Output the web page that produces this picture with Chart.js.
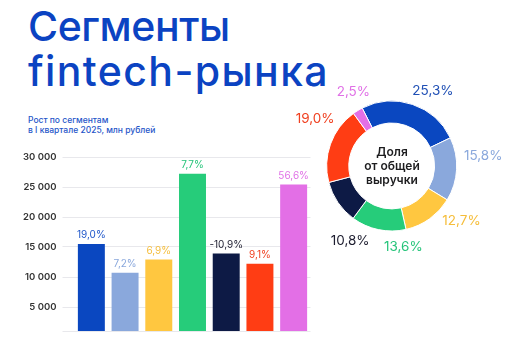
<!DOCTYPE html>
<html>
<head>
<meta charset="utf-8">
<script src="https://cdn.jsdelivr.net/npm/chart.js@4"></script>
<style>
  html, body { margin: 0; padding: 0; background: #fff; width: 525px; height: 350px; overflow: hidden; }
  body { position: relative; font-family: Inter, "Noto Sans", sans-serif; }
  #title { position: absolute; left: 28px; top: 4px; color: #0b43c2; font-family: Inter, sans-serif; font-weight: 500; font-size: 41px; line-height: 45px; }
  #title .l1 { letter-spacing: -0.4px; display: block; }
  #title .l2 { letter-spacing: 1.4px; display: block; }
  #sub { position: absolute; left: 28px; top: 115px; color: #1f56c9; font-family: Inter, sans-serif; font-weight: 500; font-size: 8.5px; line-height: 10px; }
  #barWrap { position: absolute; left: 0; top: 140px; width: 320px; height: 210px; }
  #pieWrap { position: absolute; left: 290px; top: 70px; width: 235px; height: 192px; }
  #center { position: absolute; left: 342px; top: 145px; width: 100px; text-align: center; font-family: Inter, sans-serif; font-weight: 600; font-size: 12px; line-height: 14px; color: #1d1d1f; }
</style>
</head>
<body>
<div id="title"><span class="l1">Сегменты</span><span class="l2">fintech-рынка</span></div>
<div id="sub">Рост по сегментам<br>в I квартале 2025, млн рублей</div>
<div id="barWrap"><canvas id="bar"></canvas></div>
<div id="pieWrap"><canvas id="pie"></canvas></div>
<div id="center">Доля<br>от общей<br>выручки</div>
<script>
// ---- data ----
const segments = ["Сегмент 1", "Сегмент 2", "Сегмент 3", "Сегмент 4", "Сегмент 5", "Сегмент 6", "Сегмент 7"];
const revenue = [15500, 10700, 12900, 27200, 13900, 12200, 25400];
const growthLabels = ["19,0%", "7,2%", "6,9%", "7,7%", "-10,9%", "9,1%", "56,6%"];
const yTicks = [5000, 10000, 15000, 20000, 25000, 30000];

const shareSegments = ["Сегмент 1", "Сегмент 2", "Сегмент 3", "Сегмент 4", "Сегмент 5", "Сегмент 6", "Сегмент 7"];
const shares = [25.3, 15.8, 12.7, 13.6, 10.8, 19.0, 2.5];
const shareLabels = ["25,3%", "15,8%", "12,7%", "13,6%", "10,8%", "19,0%", "2,5%"];

// ---- styles ----
const colors = ["#0a47c0", "#8aa8dc", "#ffc740", "#26cc7a", "#0d1a45", "#ff3d14", "#e36fe6"];
const barLabelColors = ["#1f56c9", "#8aa8dc", "#f5bd3a", "#26c47a", "#1d1d2f", "#f04020", "#e070e6"];
const pieLabelColors = ["#1f4fb5", "#8aa8dc", "#f5bd3a", "#26c47a", "#1d1d2f", "#f04020", "#e070e6"];

const barLabelPlugin = {
  id: 'barLabels',
  afterDatasetsDraw(chart) {
    const ctx = chart.ctx;
    const meta = chart.getDatasetMeta(0);
    ctx.save();
    ctx.font = '400 10px Inter, sans-serif';
    ctx.textAlign = 'center';
    ctx.textBaseline = 'middle';
    meta.data.forEach((el, i) => {
      ctx.fillStyle = barLabelColors[i];
      ctx.fillText(growthLabels[i], el.x, el.y - 9);
    });
    ctx.restore();
  }
};

new Chart(document.getElementById('bar'), {
  type: 'bar',
  data: {
    labels: segments,
    datasets: [{ data: revenue, backgroundColor: colors, borderWidth: 0, barPercentage: 0.8, categoryPercentage: 1 }]
  },
  options: {
    responsive: true,
    maintainAspectRatio: false,
    animation: false,
    layout: { padding: { top: 17, right: 9.5, bottom: 19, left: 0 } },
    plugins: { legend: { display: false }, tooltip: { enabled: false } },
    scales: {
      x: { display: false },
      y: {
        min: 1000, max: 30000,
        afterBuildTicks(scale) { scale.ticks = [1000].concat(yTicks).map(v => ({ value: v })); },
        afterFit(scale) { scale.width = 74.5; },
        border: { display: false },
        grid: { color: '#e8e8ec', lineWidth: 1, drawTicks: true, tickLength: 12, tickColor: '#e8e8ec' },
        ticks: {
          padding: 6,
          color: '#333',
          font: { family: 'Inter, sans-serif', size: 9.5, weight: '600' },
          callback(v) { return v === 1000 ? '' : String(v).replace(/\B(?=(\d{3})+(?!\d))/g, ' '); }
        }
      }
    }
  },
  plugins: [barLabelPlugin]
});

const pieLabelPlugin = {
  id: 'pieLabels',
  afterDraw(chart, args, opts) {
    const ctx = chart.ctx;
    const meta = chart.getDatasetMeta(0);
    ctx.save();
    ctx.font = '400 13.5px Inter, sans-serif';
    ctx.textAlign = 'center';
    ctx.textBaseline = 'middle';
    meta.data.forEach((arc, i) => {
      const mid = (arc.startAngle + arc.endAngle) / 2 + opts.nudge[i] * Math.PI / 180;
      const r = arc.outerRadius + opts.dist[i];
      ctx.fillStyle = pieLabelColors[i];
      ctx.fillText(shareLabels[i], arc.x + Math.cos(mid) * r, arc.y + Math.sin(mid) * r);
    });
    ctx.restore();
  }
};

new Chart(document.getElementById('pie'), {
  type: 'doughnut',
  data: {
    labels: shareSegments,
    datasets: [{ data: shares, backgroundColor: colors, borderColor: '#fff', borderWidth: 1, hoverOffset: 0 }]
  },
  options: {
    responsive: true,
    maintainAspectRatio: false,
    animation: false,
    rotation: -27,
    cutout: '66%',
    layout: { padding: { left: 36.2, right: 67.8, top: 30.5, bottom: 30.5 } },
    plugins: {
      legend: { display: false }, tooltip: { enabled: false },
      pieLabels: { nudge: [10, -9, -16, -20, -27, 12, 4], dist: [21, 27, 24, 17, 21, 25, 18] }
    }
  },
  plugins: [pieLabelPlugin]
});
</script>
</body>
</html>
